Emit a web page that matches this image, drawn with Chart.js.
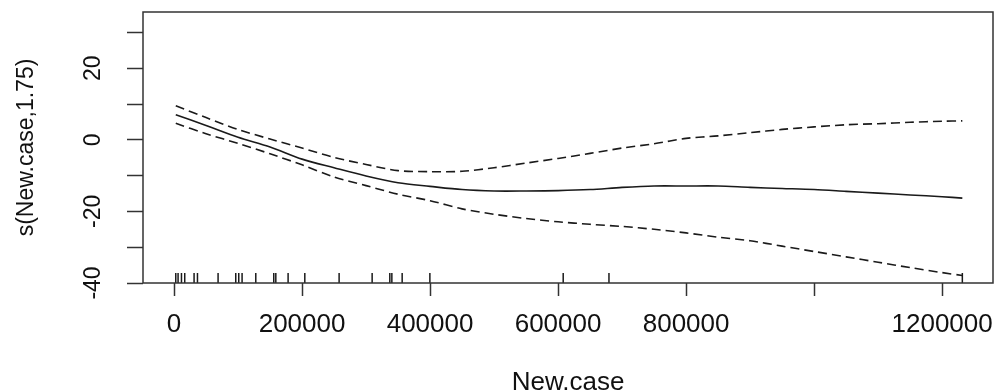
<!DOCTYPE html>
<html>
<head>
<meta charset="utf-8">
<script src="https://cdn.jsdelivr.net/npm/chart.js@4.4.1/dist/chart.umd.min.js"></script>
<style>
  html, body { margin: 0; padding: 0; background: #fff; }
  #gam { display: block; }
</style>
</head>
<body>
<canvas id="gam" width="997" height="392"></canvas>
<script>
// valores (s(New.case) con banda de +-2 se)
const newCase = [2700, 50000, 100000, 150000, 200000, 250000, 300000, 350000, 400000, 450000,
  500000, 550000, 600000, 650000, 700000, 750000, 800000, 850000, 900000, 950000,
  1000000, 1050000, 1100000, 1150000, 1200000, 1231600];
const ajuste = [7.0, 4.0, 0.7, -2.0, -5.4, -7.8, -10.1, -12.0, -13.0, -13.9,
  -14.3, -14.3, -14.2, -13.9, -13.3, -12.9, -12.9, -12.9, -13.3, -13.6,
  -13.9, -14.4, -14.9, -15.4, -15.9, -16.3];
const bandaSup = [9.5, 6.2, 2.9, 0.2, -2.3, -4.9, -6.9, -8.6, -8.9, -8.8,
  -7.8, -6.5, -5.2, -3.8, -2.3, -1.1, 0.4, 1.1, 2.0, 2.9,
  3.6, 4.2, 4.5, 4.9, 5.2, 5.3];
const bandaInf = [4.6, 1.7, -1.0, -3.9, -7.0, -10.4, -12.8, -15.2, -17.0, -19.3,
  -20.8, -22.0, -22.9, -23.6, -24.2, -25.0, -26.0, -27.2, -28.2, -29.7,
  -31.2, -32.7, -34.2, -35.7, -37.1, -37.9];
// rug de observaciones
const rugCases = [2700, 6300, 11600, 16700, 31300, 36600, 68800, 96400, 101100, 106300,
  127700, 155800, 159000, 178200, 204300, 257900, 309500, 337100, 340300, 356400,
  399700, 608000, 679500, 1231600];

const xTicks = [0, 200000, 400000, 600000, 800000, 1000000, 1200000];
const xEtiquetas = [0, 200000, 400000, 600000, 800000, 1200000];
const yTicks = [-40, -30, -20, -10, 0, 10, 20, 30];
const yEtiquetas = [-40, -20, 0, 20];
const xMin = -48500, xMax = 1279500;
const yMin = -40, yMax = 35.7;

const fuente = "'Liberation Sans', Arial, sans-serif";
const tinta = '#111';

const puntos = ys => newCase.map((x, i) => ({ x, y: ys[i] }));

const marco = {
  id: 'marco',
  afterDatasetsDraw(chart) {
    const { ctx, chartArea: a } = chart;
    ctx.save();
    ctx.strokeStyle = '#333';
    ctx.lineWidth = 1.5;
    ctx.strokeRect(a.left, a.top, a.right - a.left, a.bottom - a.top);
    ctx.restore();
  }
};

const curva = (data, dash) => ({
  data: puntos(data),
  showLine: true,
  borderColor: '#1a1a1a',
  borderWidth: 1.6,
  borderDash: dash,
  pointRadius: 0,
  tension: 0.3,
  fill: false
});

new Chart(document.getElementById('gam'), {
  type: 'scatter',
  data: {
    datasets: [
      curva(ajuste, []),
      curva(bandaSup, [9, 5]),
      curva(bandaInf, [9, 5]),
      {
        data: rugCases.map(x => ({ x, y: yMin })),
        pointStyle: 'line',
        rotation: 90,
        pointRadius: 10,
        borderColor: '#1a1a1a',
        borderWidth: 1.5,
        clip: 0
      }
    ]
  },
  options: {
    responsive: false,
    animation: false,
    devicePixelRatio: 1,
    events: [],
    layout: { autoPadding: false, padding: { top: 12, right: 4, left: 0, bottom: 0 } },
    plugins: { legend: { display: false }, tooltip: { enabled: false } },
    scales: {
      x: {
        type: 'linear',
        min: xMin,
        max: xMax,
        afterBuildTicks: s => { s.ticks = xTicks.map(value => ({ value })); },
        afterFit: s => { s.height = 109; s.paddingLeft = 0; s.paddingRight = 0; },
        grid: { drawOnChartArea: false, drawTicks: true, tickLength: 13, tickColor: '#333', tickWidth: 1.5 },
        border: { display: false },
        ticks: {
          autoSkip: false, minRotation: 0, maxRotation: 0, padding: 13,
          color: tinta, font: { family: fuente, size: 26 },
          callback: v => xEtiquetas.includes(v) ? String(v) : ''
        },
        title: {
          display: true, text: 'New.case', color: tinta,
          font: { family: fuente, size: 26, lineHeight: 0.7 }, padding: 0
        }
      },
      y: {
        type: 'linear',
        min: yMin,
        max: yMax,
        afterBuildTicks: s => { s.ticks = yTicks.map(value => ({ value })); },
        afterFit: s => { s.width = 143; s.paddingTop = 0; s.paddingBottom = 0; },
        grid: { drawOnChartArea: false, drawTicks: true, tickLength: 16, tickColor: '#333', tickWidth: 1.5 },
        border: { display: false },
        ticks: {
          autoSkip: false, minRotation: 90, maxRotation: 90, crossAlign: 'center', padding: 17,
          color: tinta, font: { family: fuente, size: 23 },
          callback: v => yEtiquetas.includes(v) ? String(v) : ''
        },
        title: {
          display: true, text: 's(New.case,1.75)', color: tinta,
          font: { family: fuente, size: 23 }, padding: { top: 13, bottom: 0 }
        }
      }
    }
  },
  plugins: [marco]
});
</script>
</body>
</html>
